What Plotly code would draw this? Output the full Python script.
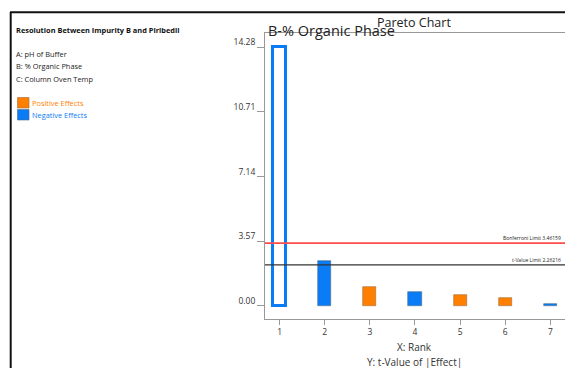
import plotly.graph_objects as go

# ---- data ----
ranks = [1, 2, 3, 4, 5, 6, 7]
t_values = [14.28, 2.45, 1.03, 0.74, 0.57, 0.41, 0.10]
effect_types = ["Negative", "Negative", "Positive", "Negative", "Positive", "Positive", "Negative"]
y_tick_vals = [0.00, 3.57, 7.14, 10.71, 14.28]
y_tick_text = ["0.00", "3.57", "7.14", "10.71", "14.28"]
bonferroni_limit = 3.46159
t_value_limit = 2.26216
factor_labels = ["A: pH of Buffer", "B: % Organic Phase", "C: Column Oven Temp"]
response_name = "Resolution Between Impurity B and Piribedil"
selected_term = "B-% Organic Phase"

BLUE = "#0a7cf5"
ORANGE = "#ff8000"
FONT = "Open Sans"

W, H = 565, 368
L, R, T, B = 265, 0, 33, 49
PW, PH = W - L - R, H - T - B


def xp(px):
    return (px - L) / PW


def yp(py):
    return (T + PH - py) / PH


fill_colors = []
line_colors = []
line_widths = []
for i, e in enumerate(effect_types):
    c = BLUE if e == "Negative" else ORANGE
    if i == 0:
        fill_colors.append("white")
        line_colors.append(BLUE)
        line_widths.append(3)
    else:
        fill_colors.append(c)
        line_colors.append("#4a6a8a" if e == "Negative" else "#a06a3a")
        line_widths.append(0.6)

fig = go.Figure()
fig.add_trace(go.Bar(
    x=ranks, y=t_values, width=0.29,
    marker=dict(color=fill_colors, line=dict(color=line_colors, width=line_widths)),
    showlegend=False, hoverinfo="skip",
))

annotations = [
    dict(x=1, xref="paper", y=bonferroni_limit, yref="y", text=f"Bonferroni Limit {bonferroni_limit}",
         xanchor="right", yanchor="bottom", showarrow=False, font=dict(size=5, color="#222"), xshift=-2),
    dict(x=1, xref="paper", y=t_value_limit, yref="y", text=f"t-Value Limit {t_value_limit}",
         xanchor="right", yanchor="bottom", showarrow=False, font=dict(size=5, color="#222"), xshift=-2),
    dict(x=xp(414), y=yp(23), xref="paper", yref="paper", text="Pareto Chart", showarrow=False,
         xanchor="center", yanchor="middle", font=dict(size=12.5, color="#222", family=FONT)),
    dict(x=xp(266), y=yp(31), xref="paper", yref="paper", text=selected_term, showarrow=False,
         xanchor="left", yanchor="middle", font=dict(size=14.5, color="#222", family=FONT)),
    dict(x=xp(414), y=yp(347), xref="paper", yref="paper", text="X: Rank", showarrow=False,
         xanchor="center", yanchor="middle", font=dict(size=10, color="#333", family=FONT)),
    dict(x=xp(414), y=yp(362), xref="paper", yref="paper", text="Y: t-Value of |Effect|", showarrow=False,
         xanchor="center", yanchor="middle", font=dict(size=10, color="#333", family=FONT)),
    dict(x=xp(14), y=yp(30), xref="paper", yref="paper", text=f"<b>{response_name}</b>", showarrow=False,
         xanchor="left", yanchor="middle", font=dict(size=7.4, color="#111", family=FONT)),
]
for i, lab in enumerate(factor_labels):
    annotations.append(dict(x=xp(14), y=yp(54 + 12.5 * i), xref="paper", yref="paper", text=lab,
                            showarrow=False, xanchor="left", yanchor="middle",
                            font=dict(size=7.4, color="#222", family=FONT)))
annotations.append(dict(x=xp(30), y=yp(102.5), xref="paper", yref="paper", text="Positive Effects",
                        showarrow=False, xanchor="left", yanchor="middle",
                        font=dict(size=7.4, color=ORANGE, family=FONT)))
annotations.append(dict(x=xp(30), y=yp(114.5), xref="paper", yref="paper", text="Negative Effects",
                        showarrow=False, xanchor="left", yanchor="middle",
                        font=dict(size=7.4, color=BLUE, family=FONT)))

fig.update_layout(
    width=W, height=H,
    margin=dict(l=L, r=R, t=T, b=B, pad=0),
    paper_bgcolor="white", plot_bgcolor="white",
    font=dict(family=FONT, color="#333"),
    annotations=annotations,
    bargap=0,
)

fig.add_shape(type="rect", xref="paper", yref="paper", x0=xp(17.5), x1=xp(29), y0=yp(97.5), y1=yp(108),
              fillcolor=ORANGE, line=dict(color="#a06a3a", width=0.6))
fig.add_shape(type="rect", xref="paper", yref="paper", x0=xp(17.5), x1=xp(29), y0=yp(109.5), y1=yp(120),
              fillcolor=BLUE, line=dict(color="#4a6a8a", width=0.6))
fig.add_shape(type="line", xref="paper", yref="paper", x0=xp(10), x1=xp(566), y0=yp(12.3), y1=yp(12.3),
              line=dict(color="#111", width=2))
fig.add_shape(type="line", xref="paper", yref="paper", x0=xp(10.7), x1=xp(10.7), y0=yp(12), y1=yp(370),
              line=dict(color="#111", width=2))
fig.add_hline(y=bonferroni_limit, line=dict(color="#ff4b4b", width=1.6), layer="above")
fig.add_hline(y=t_value_limit, line=dict(color="#333333", width=1.4), layer="above")

fig.update_xaxes(
    range=[0.677, 7.325], tickvals=ranks, ticktext=[str(r) for r in ranks],
    showgrid=False, zeroline=False, showline=True, linecolor="#999", linewidth=1,
    mirror=True, ticks="outside", ticklen=5, tickcolor="#999",
    tickfont=dict(size=8.5, color="#333"),
)
fig.update_yaxes(
    range=[-0.73, 15.07], tickvals=y_tick_vals, ticktext=y_tick_text,
    showgrid=False, zeroline=False, showline=True, linecolor="#999", linewidth=1,
    ticks="outside", ticklen=7, tickcolor="#999", ticklabelshift=-5,
    tickfont=dict(size=8.5, color="#333"),
)

fig.write_html("out.html", config={"displayModeBar": False},
               post_script="document.body.style.margin='0';document.body.style.overflow='hidden';")
